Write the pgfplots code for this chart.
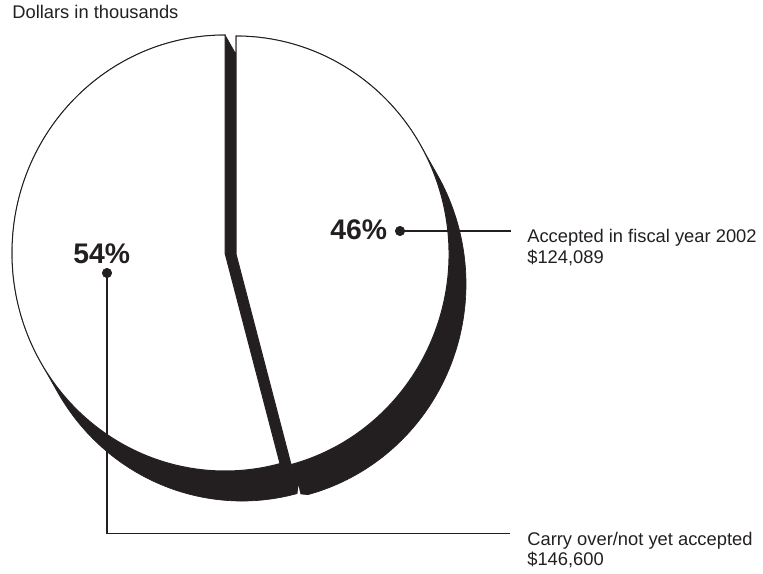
\documentclass[border=0pt]{standalone}
\usepackage{pgfplots}
\pgfplotsset{compat=1.18}
\usepackage{fontspec}
\setmainfont{Liberation Sans}
\definecolor{ink}{HTML}{231F20}
\begin{document}
\begin{tikzpicture}
% values in thousands of dollars
\pgfmathsetmacro{\va}{124.089}% accepted in fiscal year 2002
\pgfmathsetmacro{\vb}{146.600}% carry over / not yet accepted
\pgfmathsetmacro{\shr}{\va/(\va+\vb)}
\pgfmathsetmacro{\ang}{360*\shr}
\pgfmathsetmacro{\eB}{90-\ang}
\pgfmathsetmacro{\eA}{450-\ang}
\def\rx{213}\def\ry{218}
\def\ax{225}\def\ay{320}
\def\bx{236}\def\by{319}
\def\ox{17}\def\oy{-30}
\pgfmathsetmacro{\tz}{atan(\ox*\ry/(-\oy*\rx))}
\pgfmathsetmacro{\tw}{\tz+180}
\begin{axis}[x=0.6pt,y=0.6pt,xmin=0,xmax=763,ymin=0,ymax=573,
  hide axis,clip=false]
\path (axis cs:0,0) rectangle (axis cs:763,573);
% extrusion (dark side) of the 54% slice, of the 46% slice, and the gap between
\filldraw[fill=ink,draw=ink,line width=0.4pt,line join=round] (axis cs:{\ax},{\ay+\ry})
  arc[start angle=90,end angle=\tw,x radius=\rx,y radius=\ry]
  -- (axis cs:{\ax+\ox+\rx*cos(\tw)},{\ay+\oy+\ry*sin(\tw)})
  arc[start angle=\tw,end angle=\eA,x radius=\rx,y radius=\ry]
  -- (axis cs:{\bx+\ox+\rx*cos(\eB)},{\by+\oy+\ry*sin(\eB)})
  arc[start angle=\eB,end angle=\tz,x radius=\rx,y radius=\ry]
  -- (axis cs:{\bx+\rx*cos(\tz)},{\by+\ry*sin(\tz)})
  arc[start angle=\tz,end angle=90,x radius=\rx,y radius=\ry]
  -- (axis cs:{\bx},{\by}) -- (axis cs:{\ax+\ox},{\ay+\oy})
  -- (axis cs:{\ax+\ox},{\ay+\oy+\ry}) -- cycle;
\fill[white] (axis cs:298.5,87) -- (axis cs:296.5,72) -- (axis cs:302,72) -- cycle;
% top faces
\filldraw[fill=white,draw=ink,line width=0.6pt] (axis cs:{\ax},{\ay}) -- (axis cs:{\ax},{\ay+\ry})
  arc[start angle=90,end angle=\eA,x radius=\rx,y radius=\ry] -- cycle;
\filldraw[fill=white,draw=ink,line width=0.6pt] (axis cs:{\bx},{\by})
  -- (axis cs:{\bx+\rx*cos(\eB)},{\by+\ry*sin(\eB)})
  arc[start angle=\eB,end angle=90,x radius=\rx,y radius=\ry] -- cycle;
% leader lines and dots
\addplot[ink,line width=0.7pt,mark=none] coordinates {(107,300) (107,39.5) (510,39.5)};
\addplot[ink,line width=0.7pt,mark=none] coordinates {(400,342) (511,342)};
\addplot[ink,only marks,mark=*,mark size=2.8pt] coordinates {(107,300) (400,342)};
% texts
\node[anchor=base west,inner sep=0,text=ink,font=\fontsize{11}{13}\selectfont] at (axis cs:12,554.5) {Dollars in thousands};
\node[anchor=base west,inner sep=0,text=ink,font=\fontsize{17}{20}\selectfont\bfseries] at (axis cs:73,310) {54\%};
\node[anchor=base west,inner sep=0,text=ink,font=\fontsize{17}{20}\selectfont\bfseries] at (axis cs:330,333) {46\%};
\node[anchor=base west,inner sep=0,text=ink,font=\fontsize{11}{13}\selectfont] at (axis cs:527,330) {Accepted in fiscal year 2002};
\node[anchor=base west,inner sep=0,text=ink,font=\fontsize{11}{13}\selectfont] at (axis cs:527,310) {\$124,089};
\node[anchor=base west,inner sep=0,text=ink,font=\fontsize{11}{13}\selectfont] at (axis cs:527,28) {Carry over/not yet accepted};
\node[anchor=base west,inner sep=0,text=ink,font=\fontsize{11}{13}\selectfont] at (axis cs:527,8) {\$146,600};
\end{axis}
\end{tikzpicture}
\end{document}
